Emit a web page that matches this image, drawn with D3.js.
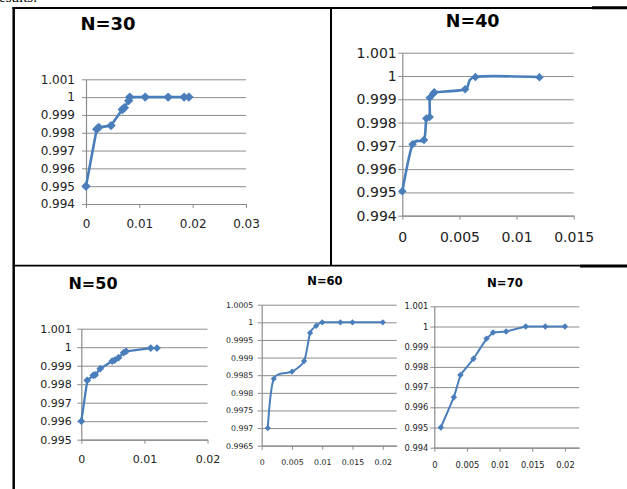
<!DOCTYPE html>
<html>
<head>
<meta charset="utf-8">
<script src="https://cdn.jsdelivr.net/npm/d3@7"></script>
<style>
  body { margin: 0; background: #fff; }
  svg { display: block; }
</style>
</head>
<body>
<svg id="chart" width="627" height="489"></svg>
<script>
// data: [x, y]
const n30 = [[0, 0.995], [0.002, 0.9982], [0.0024, 0.9983], [0.0047, 0.9984], [0.0068, 0.9993],
  [0.0072, 0.9994], [0.008, 0.9998], [0.0082, 1], [0.0111, 1], [0.0154, 1], [0.0184, 1], [0.0193, 1]];
const n40 = [[0, 0.99505], [0.0009, 0.99707], [0.0019, 0.99725], [0.0021, 0.99817], [0.0024, 0.99824],
  [0.0024, 0.99906], [0.0027, 0.99924], [0.0028, 0.9993], [0.0055, 0.99943], [0.0064, 0.99996], [0.012, 0.99995]];
const n50 = [[0, 0.996], [0.00095, 0.99821], [0.0019, 0.99848], [0.0022, 0.9985], [0.003, 0.99884],
  [0.0049, 0.99925], [0.0053, 0.9993], [0.0059, 0.99943], [0.0067, 0.9997], [0.0071, 0.99978],
  [0.011, 0.99995], [0.012, 0.99995]];
const n60 = [[0.001, 0.997], [0.002, 0.9984], [0.005, 0.9986], [0.007, 0.9989], [0.008, 0.9997],
  [0.009, 0.9999], [0.01, 1], [0.013, 1], [0.015, 1], [0.02, 1]];
const n70 = [[0.001, 0.995], [0.003, 0.9965], [0.004, 0.9976], [0.006, 0.9984], [0.008, 0.9994],
  [0.009, 0.9997], [0.011, 0.99975], [0.014, 1], [0.017, 1], [0.02, 1]];

// tick values
const yTicks30 = [0.994, 0.995, 0.996, 0.997, 0.998, 0.999, 1, 1.001];
const xTicks30 = [0, 0.01, 0.02, 0.03];
const yTicks40 = [0.994, 0.995, 0.996, 0.997, 0.998, 0.999, 1, 1.001];
const xTicks40 = [0, 0.005, 0.01, 0.015];
const yTicks50 = [0.995, 0.996, 0.997, 0.998, 0.999, 1, 1.001];
const xTicks50 = [0, 0.01, 0.02];
const yTicks60 = [0.9965, 0.997, 0.9975, 0.998, 0.9985, 0.999, 0.9995, 1, 1.0005];
const xTicks60 = [0, 0.005, 0.01, 0.015, 0.02];
const yTicks70 = [0.994, 0.995, 0.996, 0.997, 0.998, 0.999, 1, 1.001];
const xTicks70 = [0, 0.005, 0.01, 0.015, 0.02];

const blue = '#4a7ebb';
const grid = '#8c8c8c';

const panels = [
  { title: 'N=30', data: n30, xTicks: xTicks30, yTicks: yTicks30, xMax: 0.03,
    left: 86, right: 246, top: 79.3, bottom: 204,
    titleX: 108, titleY: 29.5, titleSize: 18, labelSize: 12, yPad: 7, xLabelOff: 20,
    smooth: false, lw: 2.6, marker: 44 },
  { title: 'N=40', data: n40, xTicks: xTicks40, yTicks: yTicks40, xMax: 0.015,
    left: 402.3, right: 573.7, top: 52.7, bottom: 215.7,
    titleX: 472.7, titleY: 26.5, titleSize: 17.5, labelSize: 14, yPad: 1.6, xLabelOff: 21.3,
    smooth: true, lw: 2.6, marker: 36 },
  { title: 'N=50', data: n50, xTicks: xTicks50, yTicks: yTicks50, xMax: 0.02,
    left: 81.3, right: 207.5, top: 328.7, bottom: 439.7,
    titleX: 93, titleY: 288.8, titleSize: 16, labelSize: 11, yPad: 5.6, xLabelOff: 19.6,
    smooth: false, lw: 2.3, marker: 30 },
  { title: 'N=60', data: n60, xTicks: xTicks60, yTicks: yTicks60, xMax: 0.0223,
    left: 261.7, right: 396.7, top: 304.7, bottom: 445.7,
    titleX: 325, titleY: 285.2, titleSize: 11.5, labelSize: 7.8, yPad: 4.4, xLabelOff: 16.3,
    smooth: true, lw: 2, marker: 19 },
  { title: 'N=70', data: n70, xTicks: xTicks70, yTicks: yTicks70, xMax: 0.0222,
    left: 434.3, right: 579.3, top: 306.3, bottom: 447.7,
    titleX: 505, titleY: 287, titleSize: 11.7, labelSize: 8.3, yPad: 2, xLabelOff: 17,
    smooth: false, lw: 2, marker: 21 }
];

const svg = d3.select('#chart');

// line of text above the table, mostly cut off by the page edge
svg.append('text')
  .attr('x', -6).attr('y', 1.5)
  .attr('font-family', 'Liberation Serif').attr('font-size', 15)
  .attr('fill', '#000')
  .text('results.');

// table borders
function rule(x1, y1, x2, y2, w) {
  svg.append('line')
    .attr('x1', x1).attr('y1', y1).attr('x2', x2).attr('y2', y2)
    .attr('stroke', '#000').attr('stroke-width', w);
}
rule(12.5, 8, 592, 8, 1.8);
rule(592, 7.8, 627, 7.8, 3);
rule(13.7, 7, 13.7, 489, 2.5);
rule(331, 7, 331, 266, 2);
rule(13, 265.6, 580, 265.6, 1.6);
rule(580, 266, 627, 266, 3);

function drawPanel(p) {
  const g = svg.append('g');
  const x = d3.scaleLinear().domain([0, p.xMax]).range([p.left, p.right]);
  const y = d3.scaleLinear()
    .domain([p.yTicks[0], p.yTicks[p.yTicks.length - 1]])
    .range([p.bottom, p.top]);
  const fmt = (v) => String(v);

  // horizontal gridlines
  g.append('g')
    .attr('transform', `translate(${p.left},0)`)
    .call(d3.axisLeft(y).tickValues(p.yTicks).tickFormat('').tickSize(-(p.right - p.left)).tickSizeOuter(0))
    .call((a) => a.select('.domain').remove())
    .call((a) => a.selectAll('line').attr('stroke', grid).attr('stroke-width', 1));

  // y axis
  const ya = g.append('g')
    .attr('transform', `translate(${p.left},0)`)
    .call(d3.axisLeft(y).tickValues(p.yTicks).tickFormat(fmt).tickSize(4).tickSizeOuter(0).tickPadding(p.yPad));
  // x axis
  const xPad = p.xLabelOff - 4 - 0.35 * p.labelSize;
  const xa = g.append('g')
    .attr('transform', `translate(0,${p.bottom})`)
    .call(d3.axisBottom(x).tickValues(p.xTicks).tickFormat(fmt).tickSize(4).tickSizeOuter(0).tickPadding(xPad));

  [ya, xa].forEach((a) => {
    a.select('.domain').attr('stroke', grid).attr('stroke-width', 1.2);
    a.selectAll('line').attr('stroke', grid);
    a.selectAll('text')
      .attr('font-family', 'DejaVu Sans')
      .attr('font-size', p.labelSize)
      .attr('fill', '#222');
  });

  // series line (Excel "smoothed line" for some panels)
  const line = d3.line()
    .x((d) => x(d[0]))
    .y((d) => y(d[1]))
    .curve(p.smooth ? d3.curveCardinal.tension(0.2) : d3.curveLinear);
  g.append('path')
    .datum(p.data)
    .attr('d', line)
    .attr('fill', 'none')
    .attr('stroke', blue)
    .attr('stroke-width', p.lw)
    .attr('stroke-linejoin', 'round');

  // diamond markers
  const sym = d3.symbol(d3.symbolSquare, p.marker);
  g.append('g')
    .selectAll('path')
    .data(p.data)
    .join('path')
    .attr('d', sym)
    .attr('transform', (d) => `translate(${x(d[0])},${y(d[1])}) rotate(45)`)
    .attr('fill', blue);

  // title
  g.append('text')
    .attr('x', p.titleX).attr('y', p.titleY)
    .attr('text-anchor', 'middle')
    .attr('font-family', 'DejaVu Sans')
    .attr('font-weight', 'bold')
    .attr('font-size', p.titleSize)
    .attr('fill', '#000')
    .text(p.title);
}

panels.forEach(drawPanel);
</script>
</body>
</html>
